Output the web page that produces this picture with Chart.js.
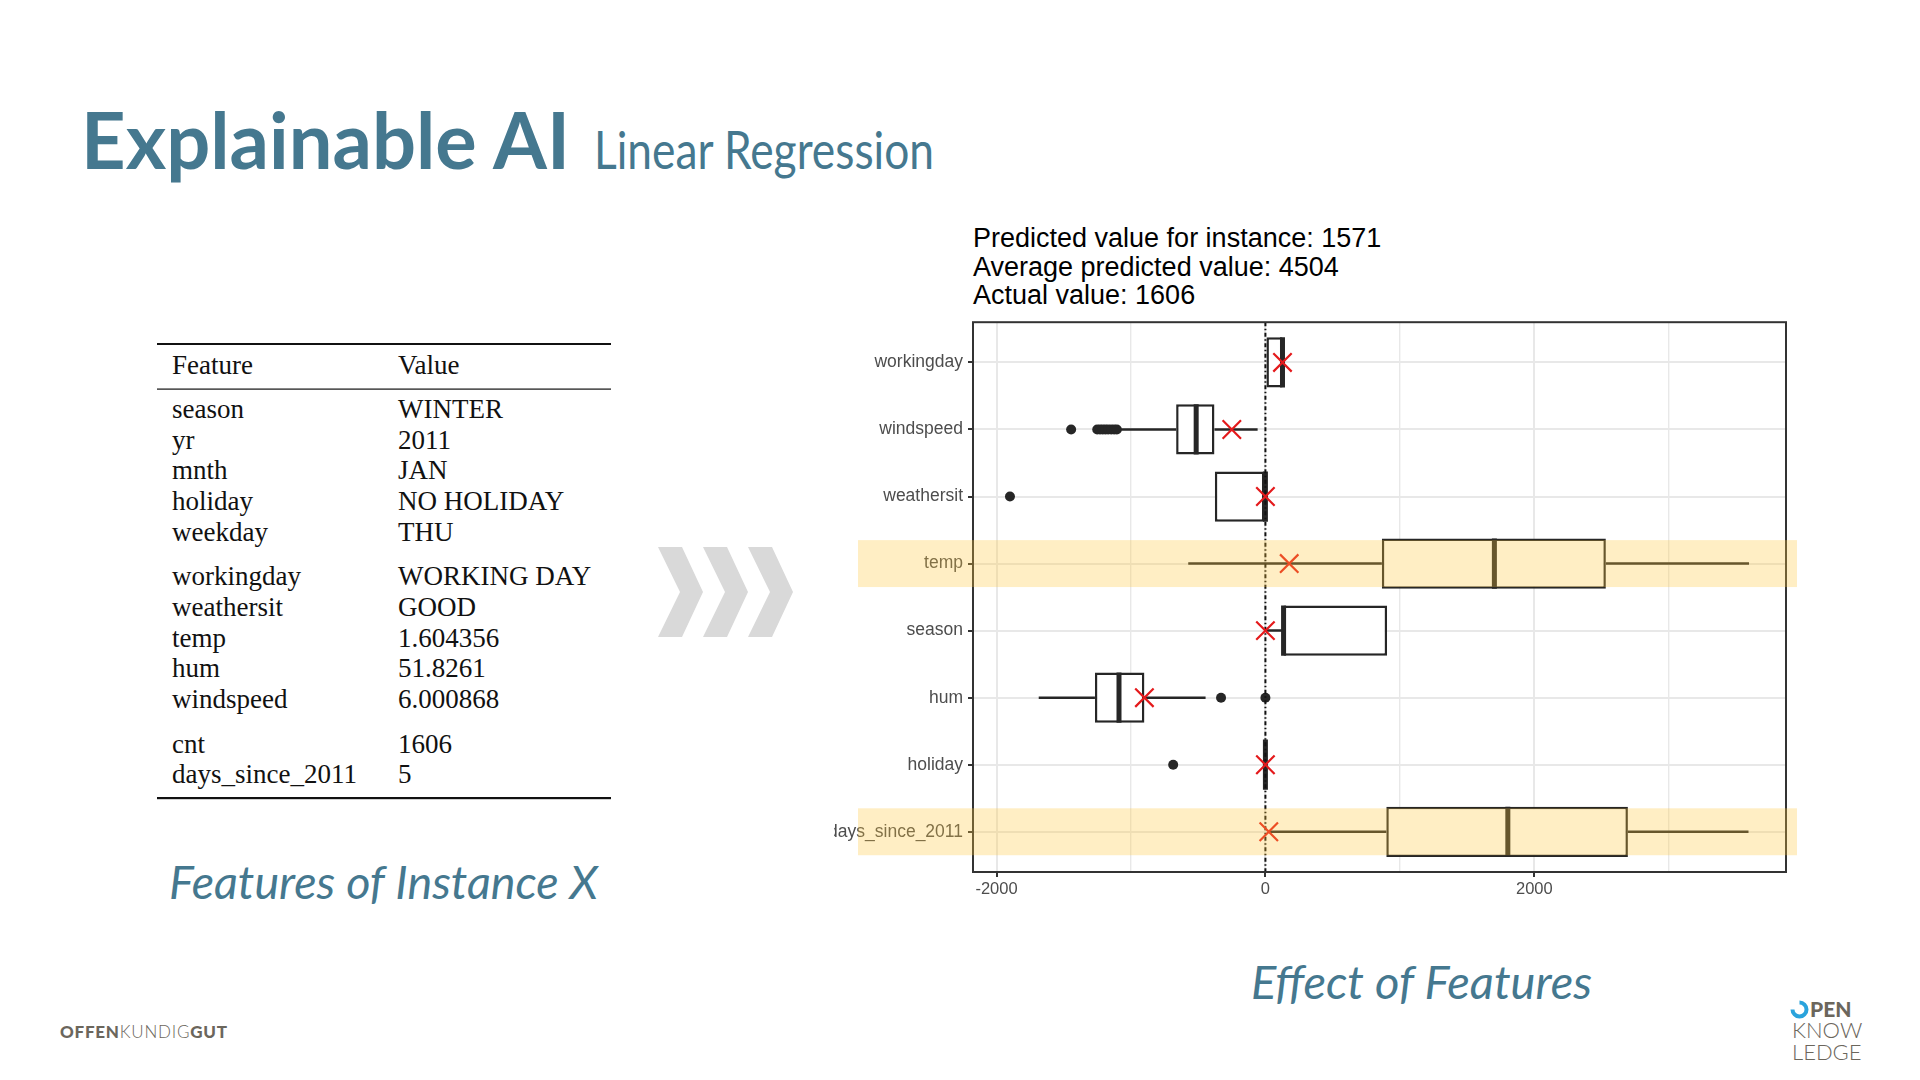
<!DOCTYPE html>
<html>
<head>
<meta charset="utf-8">
<title>Explainable AI - Linear Regression</title>
<script src="https://cdn.jsdelivr.net/npm/chart.js@4.4.1/dist/chart.umd.min.js"></script>
<style>
  html, body { margin: 0; padding: 0; background: #fff; }
  #slide { position: relative; width: 1920px; height: 1080px; overflow: hidden; background: #fff; }
  #deco { position: absolute; left: 0; top: 0; }
  #chartBox { position: absolute; left: 834px; top: 307px; width: 970px; height: 603px; }
</style>
</head>
<body>
<div id="slide">
  <svg id="deco" width="1920" height="1080" xmlns="http://www.w3.org/2000/svg">
    <text x="81" y="169" font-family="Lato" font-weight="700" font-size="78" fill="#45788F"
          textLength="489" lengthAdjust="spacingAndGlyphs">Explainable AI</text>
    <text x="594" y="169" font-family="Lato" font-size="52" fill="#45788F"
          textLength="340" lengthAdjust="spacingAndGlyphs">Linear Regression</text>

    <g id="table" font-family="Liberation Serif" font-size="27" fill="#111"></g>

    <g fill="#d9d9d9">
      <polygon points="658,547 682,547 703,592 682,637 658,637 680,592"/>
      <polygon points="703,547 727,547 748,592 727,637 703,637 725,592"/>
      <polygon points="748,547 772,547 793,592 772,637 748,637 770,592"/>
    </g>

    <g id="info" font-family="Liberation Sans" font-size="27" fill="#000"></g>

    <text x="169" y="899" font-family="Lato" font-style="italic" font-size="47" fill="#45788F"
          textLength="429" lengthAdjust="spacingAndGlyphs">Features of Instance X</text>
    <text x="1251" y="999" font-family="Lato" font-style="italic" font-size="47" fill="#45788F"
          textLength="341" lengthAdjust="spacingAndGlyphs">Effect of Features</text>

    <text x="60" y="1038" font-family="Lato" font-size="17" fill="#6b665c" textLength="167" lengthAdjust="spacing"><tspan font-weight="900">OFFEN</tspan><tspan font-weight="300">KUNDIG</tspan><tspan font-weight="900">GUT</tspan></text>

    <path d="M1792.5 1009.5 A7 7 0 1 0 1799.5 1002.5" stroke="#2aa3dc" stroke-width="4" fill="none"/>
    <text x="1810" y="1017" font-family="Lato" font-weight="900" font-size="21" fill="#6b665c">PEN</text>
    <text x="1792" y="1038" font-family="Lato" font-weight="300" font-size="22" fill="#6b665c">KNOW</text>
    <text x="1792" y="1060" font-family="Lato" font-weight="300" font-size="22" fill="#6b665c">LEDGE</text>
  </svg>
  <div id="chartBox"><canvas id="effects" width="970" height="603"></canvas></div>
</div>
<script>
// feature table (left)
const tableFeatures = ['season', 'yr', 'mnth', 'holiday', 'weekday', 'workingday', 'weathersit',
  'temp', 'hum', 'windspeed', 'cnt', 'days_since_2011'];
const tableValues = ['WINTER', '2011', 'JAN', 'NO HOLIDAY', 'THU', 'WORKING DAY', 'GOOD',
  '1.604356', '51.8261', '6.000868', '1606', '5'];
const tableGroupStarts = [5, 10];

// text above the effect plot
const infoLines = ['Predicted value for instance: 1571', 'Average predicted value: 4504', 'Actual value: 1606'];

// effect plot: one box per feature
const features = ['workingday', 'windspeed', 'weathersit', 'temp', 'season', 'hum', 'holiday', 'days_since_2011'];
const whiskerLow  = [0, -1095, -376, -574, 0, -1686, 0, 25];
const boxLow      = [0, -664, -376, 866, 135, -1268, 0, 899];
const boxMedian   = [127, -515, 0, 1703, 135, -1089, 0, 1803];
const boxHigh     = [127, -379, 0, 2532, 905, -900, 0, 2696];
const whiskerHigh = [127, -58, 0, 3597, 905, -445, 0, 3593];
const instanceEffect = [127, -250, 0, 177, 0, -900, 0, 25];
const outlierFeature = ['windspeed', 'windspeed', 'windspeed', 'windspeed', 'windspeed', 'windspeed',
  'windspeed', 'windspeed', 'windspeed', 'weathersit', 'hum', 'hum', 'holiday'];
const outlierEffect = [-1445, -1251, -1230, -1210, -1190, -1170, -1147, -1125, -1105, -1900, -330, 0, -686];
const highlightFeatures = ['temp', 'days_since_2011'];
const referenceEffect = 0;
const xTickValues = [-2000, -1000, 0, 1000, 2000, 3000];
const xTickLabels = ['-2000', '', '0', '', '2000', ''];

const SVGNS = 'http://www.w3.org/2000/svg';
function addText(parent, x, y, str) {
  const t = document.createElementNS(SVGNS, 'text');
  t.setAttribute('x', x);
  t.setAttribute('y', y);
  t.textContent = str;
  parent.appendChild(t);
}
function addRule(parent, y, h) {
  const r = document.createElementNS(SVGNS, 'rect');
  r.setAttribute('x', 157);
  r.setAttribute('y', y);
  r.setAttribute('width', 454);
  r.setAttribute('height', h);
  r.setAttribute('fill', '#111');
  parent.appendChild(r);
}

const table = document.getElementById('table');
addRule(table, 343, 2);
addText(table, 172, 374, 'Feature');
addText(table, 398, 374, 'Value');
addRule(table, 388.5, 1.2);
let gaps = 0;
tableFeatures.forEach((f, i) => {
  if (tableGroupStarts.includes(i)) gaps++;
  const y = 418 + i * 30.65 + gaps * 14;
  addText(table, 172, y, f);
  addText(table, 398, y, tableValues[i]);
});
addRule(table, 797, 2.2);

const info = document.getElementById('info');
infoLines.forEach((line, i) => addText(info, 973, 247 + i * 28.5, line));

// ggplot-like axis limits
const allEffects = [...whiskerLow, ...whiskerHigh, ...outlierEffect, ...instanceEffect];
const effMin = Math.min(...allEffects);
const effMax = Math.max(...allEffects);
const effPad = (effMax - effMin) * 0.05;

const BOX_WIDTH = 0.75;
const LINE_COLOR = '#262626';

const whiskerPoints = [];
features.forEach((f, i) => {
  whiskerPoints.push({ x: whiskerLow[i], y: i }, { x: boxLow[i], y: i }, { x: NaN, y: NaN });
  whiskerPoints.push({ x: boxHigh[i], y: i }, { x: whiskerHigh[i], y: i }, { x: NaN, y: NaN });
});

function halfBox(ctx) {
  const y = ctx.chart.scales.y;
  return Math.abs(y.getPixelForValue(BOX_WIDTH / 2) - y.getPixelForValue(0));
}

const plotExtras = {
  id: 'plotExtras',
  beforeDatasetDraw(chart, args) {
    if (chart.data.datasets[args.index].label !== 'instance') return;
    const { ctx, chartArea: a, scales: { x } } = chart;
    const px = x.getPixelForValue(referenceEffect);
    ctx.save();
    ctx.strokeStyle = '#111';
    ctx.lineWidth = 2;
    ctx.setLineDash([4, 2.5, 1.5, 2.5]);
    ctx.beginPath();
    ctx.moveTo(px, a.top);
    ctx.lineTo(px, a.bottom);
    ctx.stroke();
    ctx.restore();
  },
  afterDatasetsDraw(chart) {
    const { ctx, chartArea: a } = chart;
    ctx.save();
    ctx.strokeStyle = '#333';
    ctx.lineWidth = 2;
    ctx.strokeRect(a.left, a.top, a.width, a.height);
    ctx.restore();
  },
  afterDraw(chart) {
    const { ctx, chartArea: a, scales: { y } } = chart;
    ctx.save();
    ctx.fillStyle = 'rgba(255, 200, 60, 0.3)';
    highlightFeatures.forEach(f => {
      const i = features.indexOf(f);
      const top = y.getPixelForValue(i - 0.35);
      const bottom = y.getPixelForValue(i + 0.35);
      ctx.fillRect(a.left - 115, top, a.right + 11 - (a.left - 115), bottom - top);
    });
    ctx.restore();
  }
};

Chart.defaults.font.family = 'Liberation Sans';

new Chart(document.getElementById('effects'), {
  type: 'bar',
  data: {
    datasets: [
      {
        type: 'scatter',
        label: 'instance',
        data: features.map((f, i) => ({ x: instanceEffect[i], y: i })),
        pointStyle: 'crossRot',
        pointRadius: 13,
        pointBorderWidth: 2.2,
        pointBorderColor: '#E41A1C',
        pointBackgroundColor: 'rgba(0,0,0,0)',
        order: 0,
      },
      {
        type: 'scatter',
        label: 'outliers',
        data: outlierFeature.map((f, k) => ({ x: outlierEffect[k], y: features.indexOf(f) })),
        pointStyle: 'circle',
        pointRadius: 5,
        pointBorderWidth: 0,
        pointBackgroundColor: LINE_COLOR,
        order: 1,
      },
      {
        type: 'scatter',
        label: 'median',
        data: features.map((f, i) => ({ x: boxMedian[i], y: i })),
        pointStyle: 'line',
        pointRotation: 90,
        pointRadius: halfBox,
        pointBorderWidth: 5,
        pointBorderColor: LINE_COLOR,
        pointBackgroundColor: 'rgba(0,0,0,0)',
        order: 1,
      },
      {
        type: 'bar',
        label: 'box',
        indexAxis: 'y',
        data: features.map((f, i) => ({ x: [boxLow[i], boxHigh[i]], y: i })),
        backgroundColor: '#ffffff',
        borderColor: LINE_COLOR,
        borderWidth: 2.5,
        borderSkipped: false,
        categoryPercentage: 1,
        barPercentage: BOX_WIDTH,
        order: 2,
      },
      {
        type: 'line',
        label: 'whiskers',
        data: whiskerPoints,
        borderColor: LINE_COLOR,
        borderWidth: 2.5,
        pointRadius: 0,
        spanGaps: false,
        fill: false,
        order: 3,
      },
    ],
  },
  options: {
    responsive: false,
    animation: false,
    events: [],
    devicePixelRatio: 1,
    layout: { padding: { top: 10, right: 18, left: 0, bottom: 0 } },
    plugins: {
      legend: { display: false },
      tooltip: { enabled: false },
    },
    scales: {
      x: {
        type: 'linear',
        position: 'bottom',
        offset: false,
        min: effMin - effPad,
        max: effMax + effPad,
        beginAtZero: false,
        afterBuildTicks: (scale) => {
          scale.ticks = xTickValues.map(v => ({ value: v }));
        },
        afterFit: (scale) => {
          scale.height = 38;
          scale.paddingLeft = 0;
          scale.paddingRight = 0;
        },
        ticks: {
          autoSkip: false,
          maxRotation: 0,
          padding: 3,
          color: '#4d4d4d',
          font: { size: 16.5 },
          callback: (v, idx) => xTickLabels[idx],
        },
        grid: {
          offset: false,
          color: '#e8e8e8',
          lineWidth: (ctx) => (xTickLabels[ctx.index] ? 2 : 1.4),
          tickLength: 5,
          tickWidth: 2,
          tickColor: (ctx) => (xTickLabels[ctx.index] ? '#333' : 'rgba(0,0,0,0)'),
        },
        border: { display: false },
      },
      y: {
        type: 'linear',
        position: 'left',
        reverse: true,
        offset: false,
        min: -0.6,
        max: features.length - 1 + 0.6,
        afterBuildTicks: (scale) => {
          scale.ticks = features.map((f, i) => ({ value: i }));
        },
        afterFit: (scale) => {
          scale.width = 139;
          scale.paddingTop = 0;
          scale.paddingBottom = 0;
        },
        ticks: {
          autoSkip: false,
          padding: 5,
          color: '#4d4d4d',
          font: { size: 17.5 },
          callback: (v) => features[v],
        },
        grid: {
          offset: false,
          color: '#e8e8e8',
          lineWidth: 2,
          tickLength: 5,
          tickWidth: 2,
          tickColor: '#333',
        },
        border: { display: false },
      },
    },
  },
  plugins: [plotExtras],
});
</script>
</body>
</html>
